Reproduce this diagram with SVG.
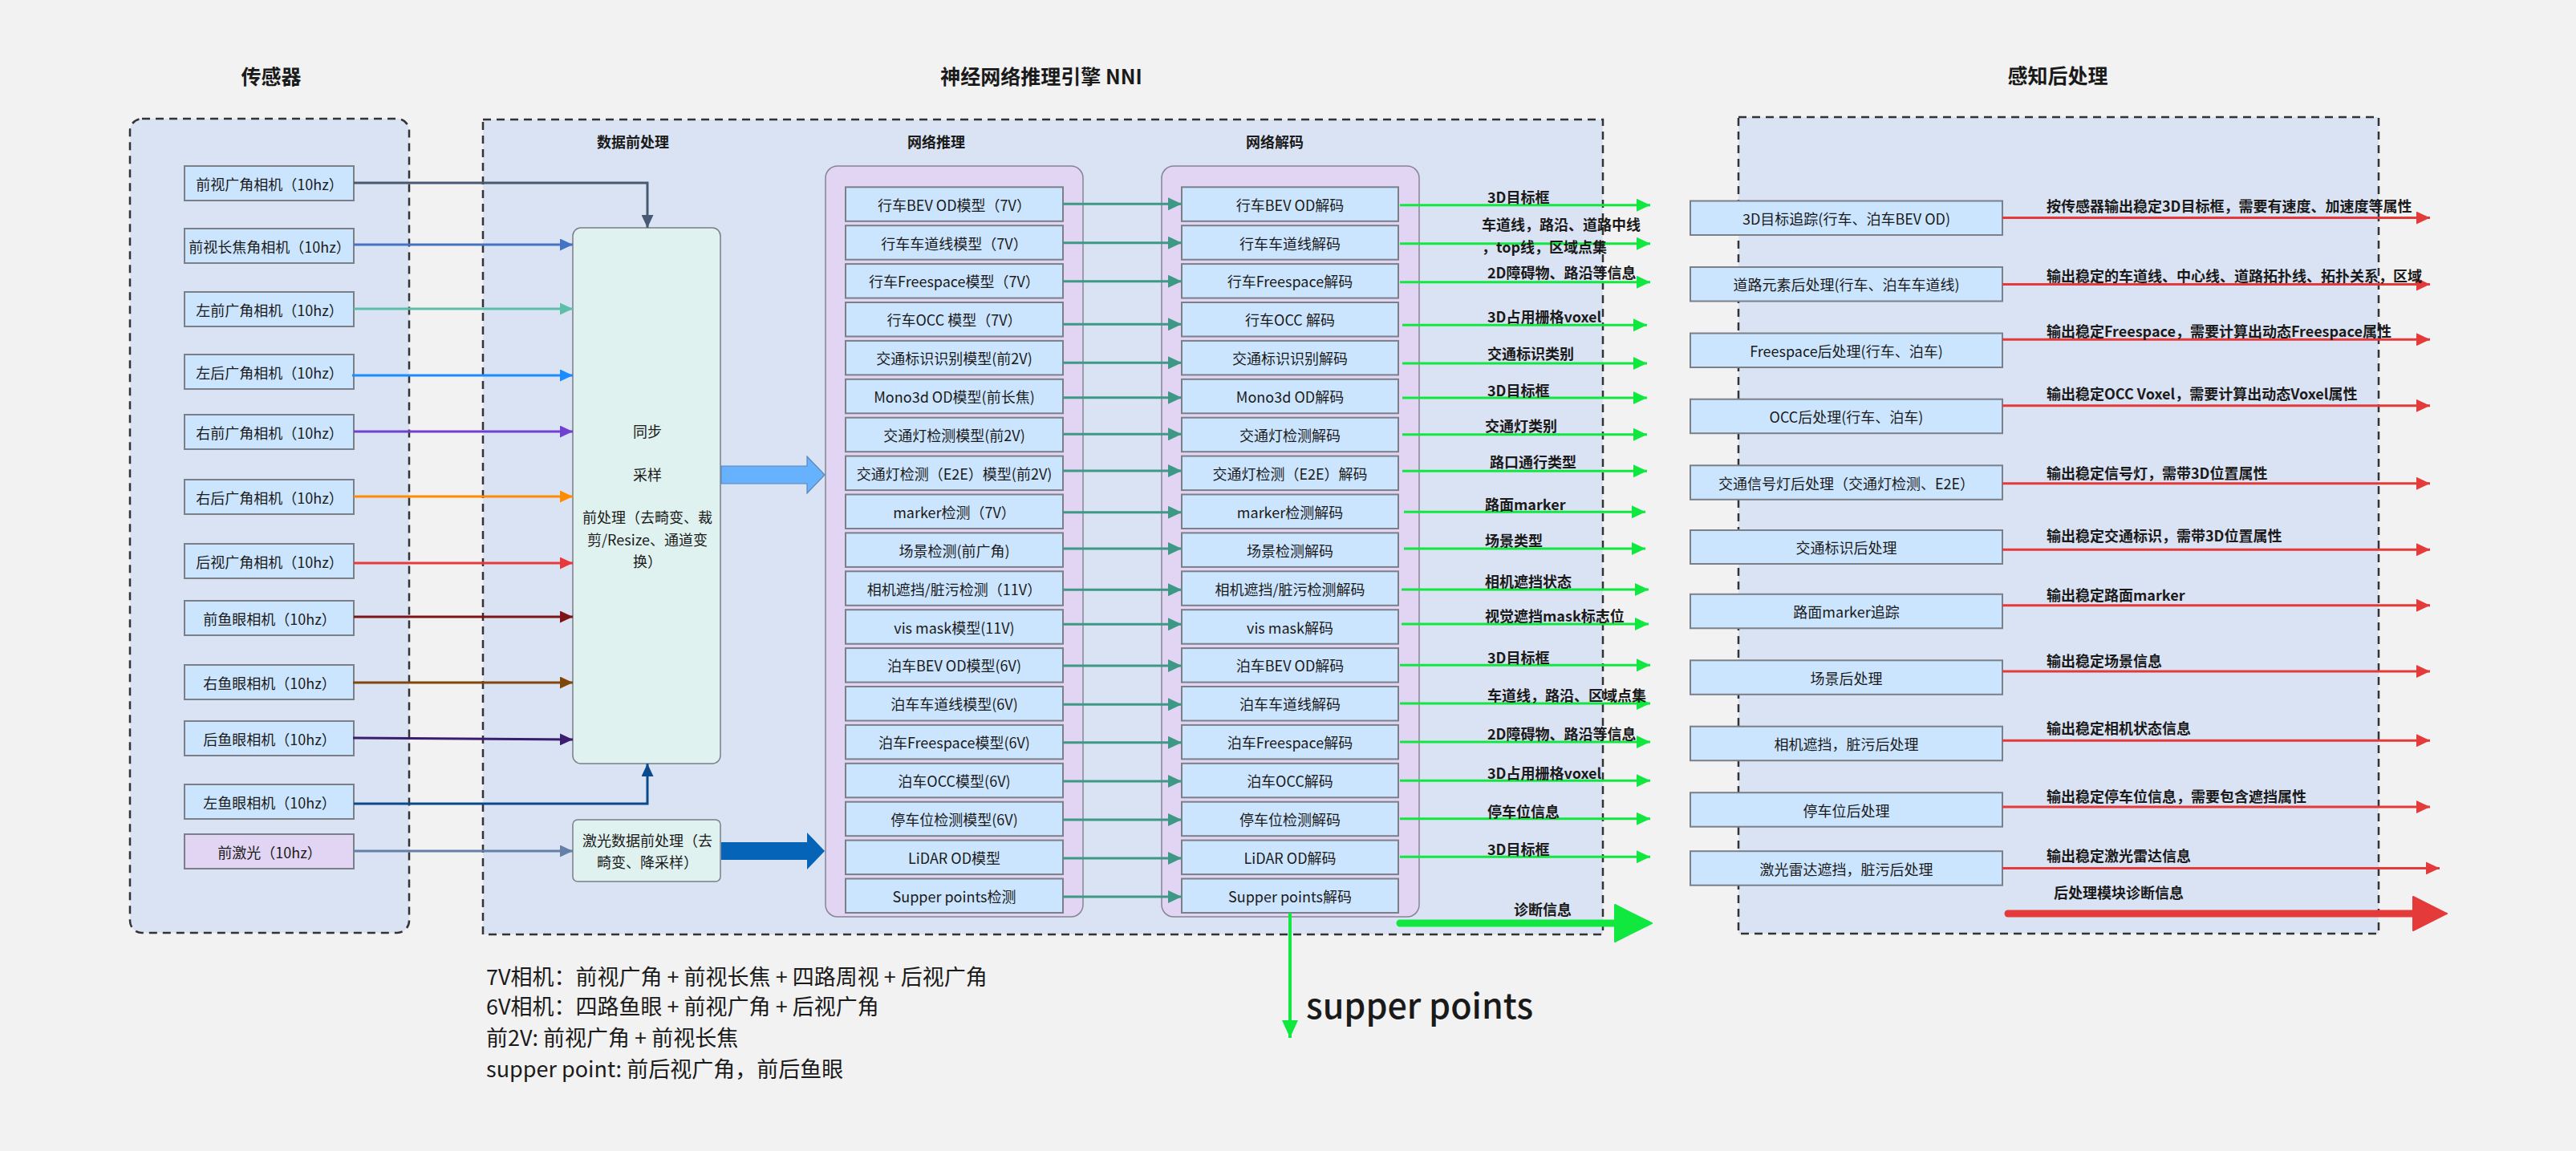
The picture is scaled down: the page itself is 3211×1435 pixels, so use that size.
<svg xmlns="http://www.w3.org/2000/svg" width="3211" height="1435" viewBox="0 0 3211 1435">
<style>
text{font-family:"Noto Sans CJK SC","Noto Sans",sans-serif;fill:#1a1a1a;dominant-baseline:central}
.c{text-anchor:middle}
.s{text-anchor:start}
.title{font-size:25px;font-weight:bold}
.sub{font-size:18px;font-weight:bold}
.lbl{font-size:18px;font-weight:bold}
.n{font-size:18px}
.grp{fill:#dae3f3;stroke:#333;stroke-width:2.5;stroke-dasharray:10 7}
.lav{fill:#e1d5f3;stroke:#858595;stroke-width:1.5}
.bx{fill:#cce5ff;stroke:#7a7f88;stroke-width:2}
.pre{fill:#e0f2ef;stroke:#7a7f88;stroke-width:1.5}
.ln{fill:none;stroke-width:3}
.teal{stroke:#3d9985;marker-end:url(#aTeal)}
.grn{stroke:#10e840;marker-end:url(#aGreen)}
.red{stroke:#e53a3a;marker-end:url(#aRed)}
</style>
<defs>
<marker id="aTeal" markerUnits="userSpaceOnUse" markerWidth="17" markerHeight="16" refX="17" refY="8" orient="auto"><path d="M0,0 L17,8 L0,16 z" fill="#3d9985"/></marker>
<marker id="aGreen" markerUnits="userSpaceOnUse" markerWidth="17" markerHeight="16" refX="17" refY="8" orient="auto"><path d="M0,0 L17,8 L0,16 z" fill="#10e840"/></marker>
<marker id="aGreenV" markerUnits="userSpaceOnUse" markerWidth="22" markerHeight="20" refX="22" refY="10" orient="auto"><path d="M0,0 L22,10 L0,20 z" fill="#10e840"/></marker>
<marker id="aRed" markerUnits="userSpaceOnUse" markerWidth="17" markerHeight="16" refX="17" refY="8" orient="auto"><path d="M0,0 L17,8 L0,16 z" fill="#e53a3a"/></marker>
<marker id="aGreenBig" markerUnits="userSpaceOnUse" markerWidth="48" markerHeight="48" refX="1" refY="24" orient="auto"><path d="M1,1 L47,24 L1,47 z" fill="#10e840" stroke="#10e840" stroke-width="2" stroke-linejoin="round"/></marker>
<marker id="aRedBig" markerUnits="userSpaceOnUse" markerWidth="44" markerHeight="44" refX="1" refY="22" orient="auto"><path d="M1,1 L43,22 L1,43 z" fill="#e53a3a" stroke="#e53a3a" stroke-width="2" stroke-linejoin="round"/></marker>
<marker id="m1" markerUnits="userSpaceOnUse" markerWidth="16" markerHeight="15" refX="16" refY="7.5" orient="auto"><path d="M0,0 L16,7.5 L0,15 z" fill="#475a72"/></marker>
<marker id="m2" markerUnits="userSpaceOnUse" markerWidth="16" markerHeight="15" refX="16" refY="7.5" orient="auto"><path d="M0,0 L16,7.5 L0,15 z" fill="#4472c4"/></marker>
<marker id="m3" markerUnits="userSpaceOnUse" markerWidth="16" markerHeight="15" refX="16" refY="7.5" orient="auto"><path d="M0,0 L16,7.5 L0,15 z" fill="#5dbfa9"/></marker>
<marker id="m4" markerUnits="userSpaceOnUse" markerWidth="16" markerHeight="15" refX="16" refY="7.5" orient="auto"><path d="M0,0 L16,7.5 L0,15 z" fill="#1a8cff"/></marker>
<marker id="m5" markerUnits="userSpaceOnUse" markerWidth="16" markerHeight="15" refX="16" refY="7.5" orient="auto"><path d="M0,0 L16,7.5 L0,15 z" fill="#7040d0"/></marker>
<marker id="m6" markerUnits="userSpaceOnUse" markerWidth="16" markerHeight="15" refX="16" refY="7.5" orient="auto"><path d="M0,0 L16,7.5 L0,15 z" fill="#ff8c00"/></marker>
<marker id="m7" markerUnits="userSpaceOnUse" markerWidth="16" markerHeight="15" refX="16" refY="7.5" orient="auto"><path d="M0,0 L16,7.5 L0,15 z" fill="#e83a3a"/></marker>
<marker id="m8" markerUnits="userSpaceOnUse" markerWidth="16" markerHeight="15" refX="16" refY="7.5" orient="auto"><path d="M0,0 L16,7.5 L0,15 z" fill="#7f1414"/></marker>
<marker id="m9" markerUnits="userSpaceOnUse" markerWidth="16" markerHeight="15" refX="16" refY="7.5" orient="auto"><path d="M0,0 L16,7.5 L0,15 z" fill="#80460a"/></marker>
<marker id="m10" markerUnits="userSpaceOnUse" markerWidth="16" markerHeight="15" refX="16" refY="7.5" orient="auto"><path d="M0,0 L16,7.5 L0,15 z" fill="#3b1d6e"/></marker>
<marker id="m11" markerUnits="userSpaceOnUse" markerWidth="16" markerHeight="15" refX="16" refY="7.5" orient="auto"><path d="M0,0 L16,7.5 L0,15 z" fill="#0a4a8c"/></marker>
<marker id="m12" markerUnits="userSpaceOnUse" markerWidth="16" markerHeight="15" refX="16" refY="7.5" orient="auto"><path d="M0,0 L16,7.5 L0,15 z" fill="#6480a8"/></marker>
</defs>
<rect x="0" y="0" width="3211" height="1435" fill="#f2f2f2"/>

<g id="titles">
<text class="title c" x="338" y="94">传感器</text>
<text class="title c" x="1298" y="94">神经网络推理引擎 NNI</text>
<text class="title c" x="2565" y="93">感知后处理</text>
</g>

<g id="group-sensors"><rect class="grp" x="162" y="148" width="348" height="1015" rx="15"/></g>
<g id="group-nni"><rect class="grp" x="602" y="149" width="1396" height="1016"/>
<text class="sub c" x="789" y="176">数据前处理</text>
<text class="sub c" x="1167" y="176">网络推理</text>
<text class="sub c" x="1589" y="176">网络解码</text>
</g>
<g id="group-post"><rect class="grp" x="2167" y="146" width="798" height="1018"/></g>
<g id="group-infer"><rect class="lav" x="1029" y="207" width="321" height="936" rx="15"/></g>
<g id="group-decode"><rect class="lav" x="1448" y="207" width="321" height="936" rx="15"/></g>

<g id="sensors">
<g id="s1"><rect class="bx" x="230" y="207" width="211" height="43"/><text class="n c" x="336" y="228.5">前视广角相机（10hz）</text></g>
<g id="s2"><rect class="bx" x="230" y="285" width="211" height="43"/><text class="n c" x="336" y="306.5">前视长焦角相机（10hz）</text></g>
<g id="s3"><rect class="bx" x="230" y="364" width="211" height="43"/><text class="n c" x="336" y="385.5">左前广角相机（10hz）</text></g>
<g id="s4"><rect class="bx" x="230" y="442" width="211" height="43"/><text class="n c" x="336" y="463.5">左后广角相机（10hz）</text></g>
<g id="s5"><rect class="bx" x="230" y="517" width="211" height="43"/><text class="n c" x="336" y="538.5">右前广角相机（10hz）</text></g>
<g id="s6"><rect class="bx" x="230" y="598" width="211" height="43"/><text class="n c" x="336" y="619.5">右后广角相机（10hz）</text></g>
<g id="s7"><rect class="bx" x="230" y="678" width="211" height="43"/><text class="n c" x="336" y="699.5">后视广角相机（10hz）</text></g>
<g id="s8"><rect class="bx" x="230" y="749" width="211" height="43"/><text class="n c" x="336" y="770.5">前鱼眼相机（10hz）</text></g>
<g id="s9"><rect class="bx" x="230" y="829" width="211" height="43"/><text class="n c" x="336" y="850.5">右鱼眼相机（10hz）</text></g>
<g id="s10"><rect class="bx" x="230" y="899" width="211" height="43"/><text class="n c" x="336" y="920.5">后鱼眼相机（10hz）</text></g>
<g id="s11"><rect class="bx" x="230" y="978" width="211" height="43"/><text class="n c" x="336" y="999.5">左鱼眼相机（10hz）</text></g>
<g id="s12"><rect x="230" y="1040" width="211" height="43" fill="#e1d5f3" stroke="#7a7f88" stroke-width="2"/><text class="n c" x="336" y="1061.5">前激光（10hz）</text></g>
</g>

<g id="preprocess">
<rect class="pre" x="714" y="284" width="184" height="668" rx="10"/>
<text class="n c" x="807" y="537">同步</text>
<text class="n c" x="807" y="591">采样</text>
<text class="n c" x="807" y="644">前处理（去畸变、裁</text>
<text class="n c" x="807" y="672">剪/Resize、通道变</text>
<text class="n c" x="807" y="699">换）</text>
</g>
<g id="lidar-preprocess">
<rect class="pre" x="714" y="1022" width="184" height="77" rx="6"/>
<text class="n c" x="807" y="1047">激光数据前处理（去</text>
<text class="n c" x="807" y="1074">畸变、降采样）</text>
</g>

<g id="models">
<g id="md1"><rect class="bx" x="1054" y="233.3" width="271" height="42.5"/><text class="n c" x="1189.5" y="254.6">行车BEV OD模型（7V）</text></g>
<g id="md2"><rect class="bx" x="1054" y="281.2" width="271" height="42.5"/><text class="n c" x="1189.5" y="302.5">行车车道线模型（7V）</text></g>
<g id="md3"><rect class="bx" x="1054" y="329.1" width="271" height="42.5"/><text class="n c" x="1189.5" y="350.4">行车Freespace模型（7V）</text></g>
<g id="md4"><rect class="bx" x="1054" y="377.0" width="271" height="42.5"/><text class="n c" x="1189.5" y="398.3">行车OCC 模型（7V）</text></g>
<g id="md5"><rect class="bx" x="1054" y="424.9" width="271" height="42.5"/><text class="n c" x="1189.5" y="446.2">交通标识识别模型(前2V)</text></g>
<g id="md6"><rect class="bx" x="1054" y="472.8" width="271" height="42.5"/><text class="n c" x="1189.5" y="494.1">Mono3d OD模型(前长焦)</text></g>
<g id="md7"><rect class="bx" x="1054" y="520.7" width="271" height="42.5"/><text class="n c" x="1189.5" y="542.0">交通灯检测模型(前2V)</text></g>
<g id="md8"><rect class="bx" x="1054" y="568.6" width="271" height="42.5"/><text class="n c" x="1189.5" y="589.9">交通灯检测（E2E）模型(前2V)</text></g>
<g id="md9"><rect class="bx" x="1054" y="616.5" width="271" height="42.5"/><text class="n c" x="1189.5" y="637.8">marker检测（7V）</text></g>
<g id="md10"><rect class="bx" x="1054" y="664.4" width="271" height="42.5"/><text class="n c" x="1189.5" y="685.7">场景检测(前广角)</text></g>
<g id="md11"><rect class="bx" x="1054" y="712.3" width="271" height="42.5"/><text class="n c" x="1189.5" y="733.6">相机遮挡/脏污检测（11V）</text></g>
<g id="md12"><rect class="bx" x="1054" y="760.2" width="271" height="42.5"/><text class="n c" x="1189.5" y="781.5">vis mask模型(11V)</text></g>
<g id="md13"><rect class="bx" x="1054" y="808.1" width="271" height="42.5"/><text class="n c" x="1189.5" y="829.4">泊车BEV OD模型(6V)</text></g>
<g id="md14"><rect class="bx" x="1054" y="856.0" width="271" height="42.5"/><text class="n c" x="1189.5" y="877.3">泊车车道线模型(6V)</text></g>
<g id="md15"><rect class="bx" x="1054" y="903.9" width="271" height="42.5"/><text class="n c" x="1189.5" y="925.2">泊车Freespace模型(6V)</text></g>
<g id="md16"><rect class="bx" x="1054" y="951.8" width="271" height="42.5"/><text class="n c" x="1189.5" y="973.1">泊车OCC模型(6V)</text></g>
<g id="md17"><rect class="bx" x="1054" y="999.7" width="271" height="42.5"/><text class="n c" x="1189.5" y="1021.0">停车位检测模型(6V)</text></g>
<g id="md18"><rect class="bx" x="1054" y="1047.6" width="271" height="42.5"/><text class="n c" x="1189.5" y="1068.9">LiDAR OD模型</text></g>
<g id="md19"><rect class="bx" x="1054" y="1095.5" width="271" height="42.5"/><text class="n c" x="1189.5" y="1116.8">Supper points检测</text></g>
</g>

<g id="decoders">
<g id="dc1"><rect class="bx" x="1473" y="233.3" width="270" height="42.5"/><text class="n c" x="1608" y="254.6">行车BEV OD解码</text></g>
<g id="dc2"><rect class="bx" x="1473" y="281.2" width="270" height="42.5"/><text class="n c" x="1608" y="302.5">行车车道线解码</text></g>
<g id="dc3"><rect class="bx" x="1473" y="329.1" width="270" height="42.5"/><text class="n c" x="1608" y="350.4">行车Freespace解码</text></g>
<g id="dc4"><rect class="bx" x="1473" y="377.0" width="270" height="42.5"/><text class="n c" x="1608" y="398.3">行车OCC 解码</text></g>
<g id="dc5"><rect class="bx" x="1473" y="424.9" width="270" height="42.5"/><text class="n c" x="1608" y="446.2">交通标识识别解码</text></g>
<g id="dc6"><rect class="bx" x="1473" y="472.8" width="270" height="42.5"/><text class="n c" x="1608" y="494.1">Mono3d OD解码</text></g>
<g id="dc7"><rect class="bx" x="1473" y="520.7" width="270" height="42.5"/><text class="n c" x="1608" y="542.0">交通灯检测解码</text></g>
<g id="dc8"><rect class="bx" x="1473" y="568.6" width="270" height="42.5"/><text class="n c" x="1608" y="589.9">交通灯检测（E2E）解码</text></g>
<g id="dc9"><rect class="bx" x="1473" y="616.5" width="270" height="42.5"/><text class="n c" x="1608" y="637.8">marker检测解码</text></g>
<g id="dc10"><rect class="bx" x="1473" y="664.4" width="270" height="42.5"/><text class="n c" x="1608" y="685.7">场景检测解码</text></g>
<g id="dc11"><rect class="bx" x="1473" y="712.3" width="270" height="42.5"/><text class="n c" x="1608" y="733.6">相机遮挡/脏污检测解码</text></g>
<g id="dc12"><rect class="bx" x="1473" y="760.2" width="270" height="42.5"/><text class="n c" x="1608" y="781.5">vis mask解码</text></g>
<g id="dc13"><rect class="bx" x="1473" y="808.1" width="270" height="42.5"/><text class="n c" x="1608" y="829.4">泊车BEV OD解码</text></g>
<g id="dc14"><rect class="bx" x="1473" y="856.0" width="270" height="42.5"/><text class="n c" x="1608" y="877.3">泊车车道线解码</text></g>
<g id="dc15"><rect class="bx" x="1473" y="903.9" width="270" height="42.5"/><text class="n c" x="1608" y="925.2">泊车Freespace解码</text></g>
<g id="dc16"><rect class="bx" x="1473" y="951.8" width="270" height="42.5"/><text class="n c" x="1608" y="973.1">泊车OCC解码</text></g>
<g id="dc17"><rect class="bx" x="1473" y="999.7" width="270" height="42.5"/><text class="n c" x="1608" y="1021.0">停车位检测解码</text></g>
<g id="dc18"><rect class="bx" x="1473" y="1047.6" width="270" height="42.5"/><text class="n c" x="1608" y="1068.9">LiDAR OD解码</text></g>
<g id="dc19"><rect class="bx" x="1473" y="1095.5" width="270" height="42.5"/><text class="n c" x="1608" y="1116.8">Supper points解码</text></g>
</g>

<g id="postprocess">
<g id="p1"><rect class="bx" x="2107" y="250.5" width="389" height="42.5"/><text class="n c" x="2301.5" y="271.8">3D目标追踪(行车、泊车BEV OD)</text></g>
<g id="p2"><rect class="bx" x="2107" y="333" width="389" height="42.5"/><text class="n c" x="2301.5" y="354.3">道路元素后处理(行车、泊车车道线)</text></g>
<g id="p3"><rect class="bx" x="2107" y="415.5" width="389" height="42.5"/><text class="n c" x="2301.5" y="436.8">Freespace后处理(行车、泊车)</text></g>
<g id="p4"><rect class="bx" x="2107" y="497.7" width="389" height="42.5"/><text class="n c" x="2301.5" y="519">OCC后处理(行车、泊车)</text></g>
<g id="p5"><rect class="bx" x="2107" y="580.3" width="389" height="42.5"/><text class="n c" x="2301.5" y="601.6">交通信号灯后处理（交通灯检测、E2E）</text></g>
<g id="p6"><rect class="bx" x="2107" y="661" width="389" height="42"/><text class="n c" x="2301.5" y="682">交通标识后处理</text></g>
<g id="p7"><rect class="bx" x="2107" y="740.8" width="389" height="42.5"/><text class="n c" x="2301.5" y="762">路面marker追踪</text></g>
<g id="p8"><rect class="bx" x="2107" y="823.3" width="389" height="42.5"/><text class="n c" x="2301.5" y="844.6">场景后处理</text></g>
<g id="p9"><rect class="bx" x="2107" y="905.7" width="389" height="42.5"/><text class="n c" x="2301.5" y="927">相机遮挡，脏污后处理</text></g>
<g id="p10"><rect class="bx" x="2107" y="988.2" width="389" height="42.5"/><text class="n c" x="2301.5" y="1009.5">停车位后处理</text></g>
<g id="p11"><rect class="bx" x="2107" y="1061.2" width="389" height="42.5"/><text class="n c" x="2301.5" y="1082.5">激光雷达遮挡，脏污后处理</text></g>
</g>

<g id="connectors">
<path class="ln" stroke="#475a72" marker-end="url(#m1)" d="M441,228 H807 V284"/>
<path class="ln" stroke="#4472c4" marker-end="url(#m2)" d="M441,305 H714"/>
<path class="ln" stroke="#5dbfa9" marker-end="url(#m3)" d="M441,385 H714"/>
<path class="ln" stroke="#1a8cff" marker-end="url(#m4)" d="M439,468 H714"/>
<path class="ln" stroke="#7040d0" marker-end="url(#m5)" d="M441,538 H714"/>
<path class="ln" stroke="#ff8c00" marker-end="url(#m6)" d="M441,619 H714"/>
<path class="ln" stroke="#e83a3a" marker-end="url(#m7)" d="M441,702 H714"/>
<path class="ln" stroke="#7f1414" marker-end="url(#m8)" d="M441,769 H714"/>
<path class="ln" stroke="#80460a" marker-end="url(#m9)" d="M440,851 H714"/>
<path class="ln" stroke="#3b1d6e" marker-end="url(#m10)" d="M440,920 L714,922"/>
<path class="ln" stroke="#0a4a8c" marker-end="url(#m11)" d="M441,1002 H807 V952"/>
<path class="ln" stroke="#6480a8" marker-end="url(#m12)" d="M441,1061 H714"/>

<polygon points="899,581 1006,581 1006,569 1028,592 1006,615 1006,603 899,603" fill="#66b2ff" stroke="#5b86b5" stroke-width="1.2"/>
<polygon points="899,1050 1006,1050 1006,1038 1028,1061 1006,1084 1006,1072 899,1072" fill="#0563b8"/>

<g class="ln teal">
<path d="M1325,254.3 H1473"/><path d="M1325,302.7 H1473"/><path d="M1325,350.7 H1473"/>
<path d="M1325,404.3 H1473"/><path d="M1325,452.3 H1473"/><path d="M1325,495.7 H1473"/>
<path d="M1325,541.3 H1473"/><path d="M1325,587 H1473"/><path d="M1325,638.7 H1473"/>
<path d="M1325,684 H1473"/><path d="M1325,735.3 H1473"/><path d="M1325,778.3 H1473"/>
<path d="M1325,830 H1473"/><path d="M1325,878.3 H1473"/><path d="M1325,925.7 H1473"/>
<path d="M1325,974 H1473"/><path d="M1325,1022 H1473"/><path d="M1325,1070 H1473"/>
<path d="M1325,1118 H1473"/>
</g>

<g class="ln grn">
<path d="M1745,255.7 H2057"/><path d="M1745,303.7 H2057"/><path d="M1745,351.7 H2057"/>
<path d="M1748,405.3 H2053"/><path d="M1748,453 H2053"/><path d="M1748,496 H2053"/>
<path d="M1748,541.7 H2053"/><path d="M1748,587.3 H2053"/><path d="M1750,638.3 H2051"/>
<path d="M1750,684 H2051"/><path d="M1747,735 H2055"/><path d="M1747,777.9 H2055"/>
<path d="M1745,829.3 H2057"/><path d="M1745,877 H2057"/><path d="M1745,925 H2057"/>
<path d="M1745,973.2 H2057"/><path d="M1745,1020.7 H2057"/><path d="M1745,1068.2 H2057"/>
</g>
<path d="M1745,1151 H2013" fill="none" stroke="#10e840" stroke-width="9" stroke-linecap="round" marker-end="url(#aGreenBig)"/>
<path d="M1608,1138 V1294" fill="none" stroke="#10e840" stroke-width="4" marker-end="url(#aGreenV)"/>

<g class="ln red">
<path d="M2496,271.6 H3029"/><path d="M2496,354.5 H3029"/><path d="M2496,423.3 H3029"/>
<path d="M2496,505.8 H3029"/><path d="M2496,602.7 H3029"/><path d="M2496,685.3 H3029"/>
<path d="M2496,754.7 H3029"/><path d="M2496,837.1 H3029"/><path d="M2496,923.3 H3029"/>
<path d="M2496,1006.1 H3029"/><path d="M2496,1082.4 H3041"/>
</g>
<path d="M2503,1139 H3008" fill="none" stroke="#e53a3a" stroke-width="9" stroke-linecap="round" marker-end="url(#aRedBig)"/>
</g>

<g id="edge-labels">
<text class="lbl s" x="1854" y="245">3D目标框</text>
<text class="lbl s" x="1847" y="279">车道线，路沿、道路中线</text>
<text class="lbl s" x="1847" y="307">，top线，区域点集</text>
<text class="lbl s" x="1854" y="339">2D障碍物、路沿等信息</text>
<text class="lbl s" x="1854" y="394">3D占用栅格voxel</text>
<text class="lbl s" x="1854" y="440">交通标识类别</text>
<text class="lbl s" x="1854" y="486">3D目标框</text>
<text class="lbl s" x="1851" y="530">交通灯类别</text>
<text class="lbl s" x="1857" y="575">路口通行类型</text>
<text class="lbl s" x="1851" y="628">路面marker</text>
<text class="lbl s" x="1851" y="673">场景类型</text>
<text class="lbl s" x="1851" y="724">相机遮挡状态</text>
<text class="lbl s" x="1851" y="767">视觉遮挡mask标志位</text>
<text class="lbl s" x="1854" y="819">3D目标框</text>
<text class="lbl s" x="1854" y="866">车道线，路沿、区域点集</text>
<text class="lbl s" x="1854" y="914">2D障碍物、路沿等信息</text>
<text class="lbl s" x="1854" y="963">3D占用栅格voxel</text>
<text class="lbl s" x="1854" y="1011">停车位信息</text>
<text class="lbl s" x="1854" y="1058">3D目标框</text>
<text class="lbl c" x="1923" y="1133">诊断信息</text>

<text class="lbl s" x="2551" y="256">按传感器输出稳定3D目标框，需要有速度、加速度等属性</text>
<text class="lbl s" x="2551" y="343">输出稳定的车道线、中心线、道路拓扑线、拓扑关系，区域</text>
<text class="lbl s" x="2551" y="412">输出稳定Freespace，需要计算出动态Freespace属性</text>
<text class="lbl s" x="2551" y="490">输出稳定OCC Voxel，需要计算出动态Voxel属性</text>
<text class="lbl s" x="2551" y="588.5">输出稳定信号灯，需带3D位置属性</text>
<text class="lbl s" x="2551" y="667">输出稳定交通标识，需带3D位置属性</text>
<text class="lbl s" x="2551" y="741">输出稳定路面marker</text>
<text class="lbl s" x="2551" y="823">输出稳定场景信息</text>
<text class="lbl s" x="2551" y="907">输出稳定相机状态信息</text>
<text class="lbl s" x="2551" y="992">输出稳定停车位信息，需要包含遮挡属性</text>
<text class="lbl s" x="2551" y="1066">输出稳定激光雷达信息</text>
<text class="lbl s" x="2560" y="1112">后处理模块诊断信息</text>

<text class="s" x="1628" y="1251" style="font-size:43px;font-weight:500">supper points</text>
</g>

<g id="notes" style="font-size:27px">
<text class="s" x="606" y="1216">7V相机：前视广角 + 前视长焦 + 四路周视 + 后视广角</text>
<text class="s" x="606" y="1253">6V相机：四路鱼眼 + 前视广角 + 后视广角</text>
<text class="s" x="606" y="1292">前2V: 前视广角 + 前视长焦</text>
<text class="s" x="606" y="1331">supper point: 前后视广角，前后鱼眼</text>
</g>
</svg>
